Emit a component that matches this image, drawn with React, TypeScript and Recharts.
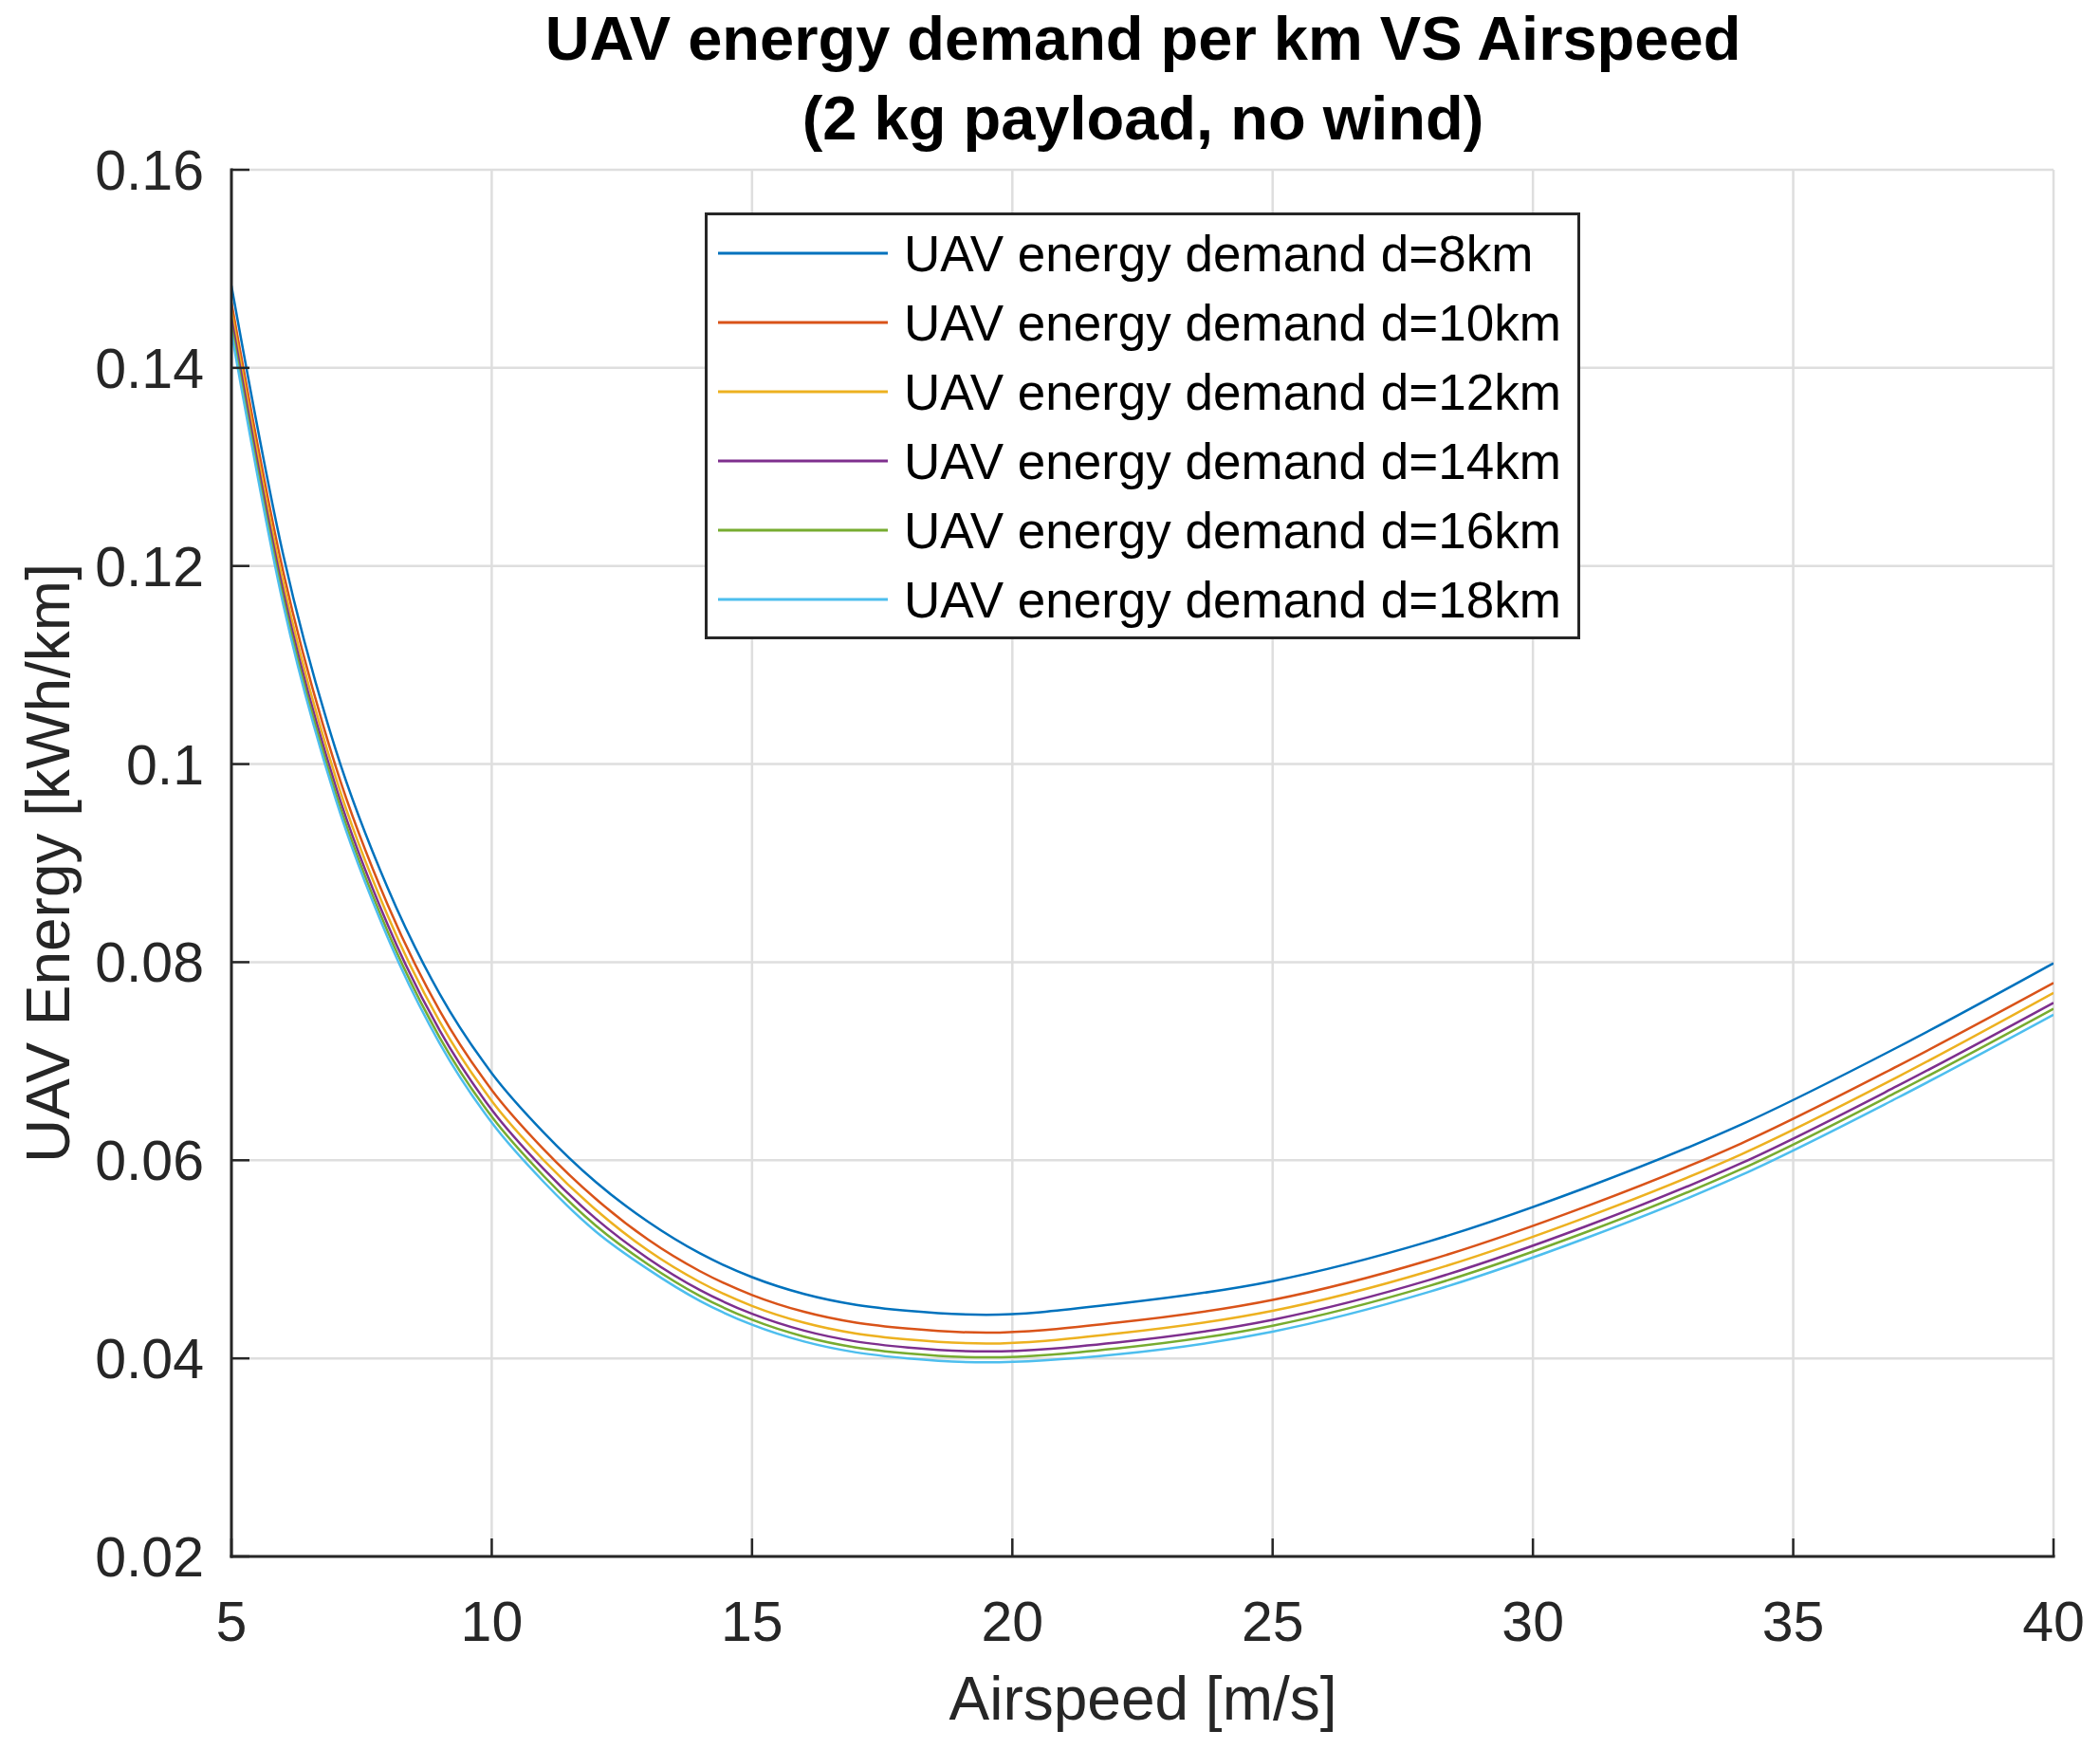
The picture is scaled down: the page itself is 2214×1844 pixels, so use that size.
import { LineChart, Line, XAxis, YAxis, CartesianGrid, Legend } from "recharts"

// airspeed samples [m/s] and energy per km [kWh/km]
const speeds = [5, 6, 7, 8, 9, 10, 11, 12, 13, 14, 15, 16, 17, 18, 19.5, 22, 25, 28, 31, 34, 37, 40]
const demand8km = [0.1483, 0.121, 0.1015, 0.0875, 0.0768, 0.0688, 0.0628, 0.0578, 0.0538, 0.0506, 0.0482, 0.0465, 0.0454, 0.0448, 0.0444, 0.0455, 0.0478, 0.0518, 0.0572, 0.0636, 0.0714, 0.0799]
const demand10km = [0.1466, 0.1193, 0.0998, 0.0858, 0.0751, 0.0671, 0.0611, 0.0561, 0.052, 0.0488, 0.0464, 0.0447, 0.0436, 0.043, 0.0426, 0.0436, 0.0459, 0.0499, 0.0553, 0.0617, 0.0695, 0.0779]
const demand12km = [0.1458, 0.1182, 0.0987, 0.0847, 0.074, 0.066, 0.06, 0.055, 0.0509, 0.0477, 0.0453, 0.0436, 0.0425, 0.0419, 0.0415, 0.0425, 0.0448, 0.0488, 0.0542, 0.0606, 0.0684, 0.0769]
const demand14km = [0.145, 0.1173, 0.0978, 0.0838, 0.0731, 0.0651, 0.0591, 0.0541, 0.0501, 0.0469, 0.0445, 0.0428, 0.0417, 0.0411, 0.0407, 0.0416, 0.0439, 0.0479, 0.0533, 0.0597, 0.0675, 0.0759]
const demand16km = [0.1442, 0.1166, 0.0971, 0.0831, 0.0724, 0.0644, 0.0584, 0.0534, 0.0495, 0.0463, 0.0439, 0.0422, 0.0411, 0.0405, 0.0401, 0.041, 0.0433, 0.0473, 0.0527, 0.0591, 0.0669, 0.0753]
const demand18km = [0.1436, 0.116, 0.0965, 0.0825, 0.0718, 0.0638, 0.0578, 0.0528, 0.049, 0.0458, 0.0434, 0.0417, 0.0406, 0.04, 0.0396, 0.0404, 0.0427, 0.0467, 0.0521, 0.0585, 0.0663, 0.0747]

const seriesKeys = ["d8", "d10", "d12", "d14", "d16", "d18"]
const seriesNames = [
  "UAV energy demand d=8km",
  "UAV energy demand d=10km",
  "UAV energy demand d=12km",
  "UAV energy demand d=14km",
  "UAV energy demand d=16km",
  "UAV energy demand d=18km",
]
const seriesColors = ["#0072BD", "#D95319", "#EDB120", "#7E2F8E", "#77AC30", "#4DBEEE"]

const xTicks = [5, 10, 15, 20, 25, 30, 35, 40]
const yTicks = [0.02, 0.04, 0.06, 0.08, 0.1, 0.12, 0.14, 0.16]
const yTickLabels = ["0.02", "0.04", "0.06", "0.08", "0.1", "0.12", "0.14", "0.16"]

const allSeries = [demand8km, demand10km, demand12km, demand14km, demand16km, demand18km]
const data = speeds.map((speed, i) => {
  const row: Record<string, number> = { speed }
  seriesKeys.forEach((k, s) => (row[k] = allSeries[s][i]))
  return row
})

const FONT = "'Liberation Sans', Arial, Helvetica, sans-serif"
const INK = "#262626"
const TICK_LEN = 19

function yLabel(v: number) {
  const i = yTicks.findIndex((t) => Math.abs(t - v) < 1e-9)
  return i >= 0 ? yTickLabels[i] : String(v)
}

function BottomTick({ x, y, payload }: any) {
  return (
    <g>
      <line x1={x} y1={y} x2={x} y2={y - TICK_LEN} stroke={INK} strokeWidth={2.5} />
      <text x={x} y={y + 89} textAnchor="middle" fontSize={59} fill={INK} fontFamily={FONT}>
        {payload.value}
      </text>
    </g>
  )
}

function TopTick({ x, y }: any) {
  return <line x1={x} y1={y} x2={x} y2={y + TICK_LEN} stroke={INK} strokeWidth={2.5} />
}

function LeftTick({ x, y, payload }: any) {
  return (
    <g>
      <line x1={x} y1={y} x2={x + TICK_LEN} y2={y} stroke={INK} strokeWidth={2.5} />
      <text x={x - 29} y={y + 21} textAnchor="end" fontSize={59} fill={INK} fontFamily={FONT}>
        {yLabel(payload.value)}
      </text>
    </g>
  )
}

function RightTick({ x, y }: any) {
  return <line x1={x} y1={y} x2={x - TICK_LEN} y2={y} stroke={INK} strokeWidth={2.5} />
}

function LegendBox() {
  return (
    <svg width={923} height={450} style={{ display: "block" }}>
      <rect x={1.5} y={1.5} width={920} height={447} fill="#fff" stroke={INK} strokeWidth={3} />
      {seriesNames.map((name, i) => {
        const cy = 43 + i * 73
        return (
          <g key={name}>
            <line x1={14} x2={193} y1={cy} y2={cy} stroke={seriesColors[i]} strokeWidth={3} />
            <text x={210} y={cy + 19} fontSize={53} fill="#000" fontFamily={FONT}>
              {name}
            </text>
          </g>
        )
      })}
    </svg>
  )
}

export default function App() {
  return (
    <div style={{ position: "absolute", left: 0, top: 0, width: 2214, height: 1844, background: "#fff", fontFamily: FONT }}>
      <LineChart width={2214} height={1844} data={data} margin={{ top: 179, right: 49, bottom: 0, left: 0 }}>
        <CartesianGrid stroke="#dedede" strokeWidth={2.5} />
        <XAxis
          dataKey="speed"
          type="number"
          domain={[5, 40]}
          ticks={xTicks}
          interval={0}
          height={203}
          tickSize={0}
          tickMargin={0}
          tick={<BottomTick />}
          axisLine={{ stroke: INK, strokeWidth: 3, strokeLinecap: "square" }}
          allowDataOverflow
        />
        <XAxis
          xAxisId="top"
          orientation="top"
          dataKey="speed"
          type="number"
          domain={[5, 40]}
          ticks={xTicks}
          interval={0}
          height={0}
          tickSize={0}
          tickMargin={0}
          tick={<TopTick />}
          axisLine={{ stroke: INK, strokeWidth: 3, strokeLinecap: "square" }}
          allowDataOverflow
        />
        <YAxis
          type="number"
          domain={[0.02, 0.16]}
          ticks={yTicks}
          interval={0}
          width={244}
          tickSize={0}
          tickMargin={0}
          tick={<LeftTick />}
          axisLine={{ stroke: INK, strokeWidth: 3, strokeLinecap: "square" }}
          allowDataOverflow
        />
        <YAxis
          yAxisId="right"
          orientation="right"
          type="number"
          domain={[0.02, 0.16]}
          ticks={yTicks}
          interval={0}
          width={0}
          tickSize={0}
          tickMargin={0}
          tick={<RightTick />}
          axisLine={{ stroke: INK, strokeWidth: 3, strokeLinecap: "square" }}
          allowDataOverflow
        />
        {seriesKeys.map((k, i) => (
          <Line
            key={k}
            dataKey={k}
            name={seriesNames[i]}
            type="monotone"
            stroke={seriesColors[i]}
            strokeWidth={2.5}
            dot={false}
            activeDot={false}
            isAnimationActive={false}
          />
        ))}
        <Legend
          layout="vertical"
          align="center"
          verticalAlign="middle"
          wrapperStyle={{ left: 743, top: 224, width: 923, height: 450 }}
          content={() => <LegendBox />}
        />
      </LineChart>
      <svg
        width={2214}
        height={1844}
        style={{ position: "absolute", left: 0, top: 0, pointerEvents: "none" }}
      >
        <text x={1205} y={63} textAnchor="middle" fontSize={65} fontWeight="bold" fill="#000" fontFamily={FONT}>
          UAV energy demand per km VS Airspeed
        </text>
        <text x={1205} y={147} textAnchor="middle" fontSize={65} fontWeight="bold" fill="#000" fontFamily={FONT}>
          (2 kg payload, no wind)
        </text>
        <text x={1205} y={1813} textAnchor="middle" fontSize={64} fill={INK} fontFamily={FONT}>
          Airspeed [m/s]
        </text>
        <text x={73} y={910} transform="rotate(-90 73 910)" textAnchor="middle" fontSize={64} fill={INK} fontFamily={FONT}>
          UAV Energy [kWh/km]
        </text>
      </svg>
    </div>
  )
}
